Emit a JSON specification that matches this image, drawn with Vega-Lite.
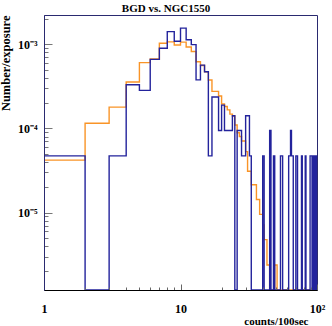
{
  "$schema": "https://vega.github.io/schema/vega-lite/v6.json",
  "autosize": "none",
  "width": 273,
  "height": 275,
  "padding": {"left": 44, "top": 15, "right": 15, "bottom": 36},
  "background": "white",
  "config": {
    "view": {"stroke": "#2a2a70", "strokeWidth": 1},
    "font": "Liberation Serif"
  },
  "title": {
    "text": "BGD vs. NGC1550",
    "font": "Liberation Serif",
    "fontWeight": "bold",
    "fontSize": 11,
    "anchor": "middle",
    "frame": "group",
    "dx": -14.5,
    "offset": -10,
    "baseline": "alphabetic",
    "color": "#000"
  },
  "datasets": {
    "ngc": [
      {"bin": 1, "rate": 4.2e-5}, {"bin": 2, "rate": 1.15e-4}, {"bin": 3, "rate": 1.79e-4}, {"bin": 4, "rate": 3.56e-4},
      {"bin": 5, "rate": 6.05e-4}, {"bin": 6, "rate": 6.68e-4}, {"bin": 7, "rate": 1.03e-3}, {"bin": 8, "rate": 1.07e-3},
      {"bin": 9, "rate": 9.8e-4}, {"bin": 10, "rate": 1.06e-3}, {"bin": 11, "rate": 9.3e-4}, {"bin": 12, "rate": 8.2e-4},
      {"bin": 13, "rate": 6.2e-4}, {"bin": 14, "rate": 5.6e-4}, {"bin": 15, "rate": 4.7e-4}, {"bin": 16, "rate": 3.77e-4},
      {"bin": 17, "rate": 2.76e-4}, {"bin": 18, "rate": 2.76e-4}, {"bin": 19, "rate": 2.43e-4}, {"bin": 20, "rate": 1.95e-4},
      {"bin": 21, "rate": 1.82e-4}, {"bin": 22, "rate": 1.66e-4}, {"bin": 23, "rate": 1.48e-4}, {"bin": 24, "rate": 1.4e-4},
      {"bin": 25, "rate": 1.1e-4}, {"bin": 26, "rate": 8.9e-5}, {"bin": 27, "rate": 8.0e-5}, {"bin": 28, "rate": 7.1e-5},
      {"bin": 29, "rate": 7.1e-5}, {"bin": 30, "rate": 5.3e-5}, {"bin": 31, "rate": 3.1e-5}, {"bin": 32, "rate": 3.1e-5},
      {"bin": 33, "rate": 2.14e-5}, {"bin": 34, "rate": 2.14e-5}, {"bin": 35, "rate": 2.14e-5}, {"bin": 36, "rate": 1.43e-5},
      {"bin": 37, "rate": 1.43e-5}, {"bin": 38, "rate": 9.5e-6}, {"bin": 39, "rate": 9.5e-6}, {"bin": 40, "rate": 7.14e-6},
      {"bin": 41, "rate": 4.76e-6}, {"bin": 42, "rate": 4.76e-6}, {"bin": 43, "rate": 2.38e-6}, {"bin": 44, "rate": 2.38e-6},
      {"bin": 45, "rate": 1e-9}, {"bin": 46, "rate": 1e-9}, {"bin": 47, "rate": 1e-9}, {"bin": 48, "rate": 1e-9},
      {"bin": 49, "rate": 2.38e-6}, {"bin": 50, "rate": 2.38e-6}, {"bin": 51, "rate": 1e-9}, {"bin": 52, "rate": 1e-9},
      {"bin": 53, "rate": 1e-9}, {"bin": 54, "rate": 1e-9}, {"bin": 55, "rate": 1e-9}, {"bin": 56, "rate": 1e-9},
      {"bin": 57, "rate": 1e-9}, {"bin": 58, "rate": 1e-9}, {"bin": 59, "rate": 1e-9}, {"bin": 60, "rate": 1e-9},
      {"bin": 61, "rate": 1e-9}, {"bin": 62, "rate": 1e-9}, {"bin": 63, "rate": 1e-9}, {"bin": 64, "rate": 1e-9},
      {"bin": 65, "rate": 1e-9}, {"bin": 66, "rate": 1e-9}, {"bin": 67, "rate": 1e-9}, {"bin": 68, "rate": 1e-9},
      {"bin": 69, "rate": 1e-9}, {"bin": 70, "rate": 1e-9}, {"bin": 71, "rate": 1e-9}, {"bin": 72, "rate": 1e-9},
      {"bin": 73, "rate": 1e-9}, {"bin": 74, "rate": 1e-9}, {"bin": 75, "rate": 1e-9}, {"bin": 76, "rate": 1e-9},
      {"bin": 77, "rate": 1e-9}, {"bin": 78, "rate": 1e-9}, {"bin": 79, "rate": 1e-9}, {"bin": 80, "rate": 1e-9},
      {"bin": 81, "rate": 1e-9}, {"bin": 82, "rate": 1e-9}, {"bin": 83, "rate": 1e-9}, {"bin": 84, "rate": 1e-9},
      {"bin": 85, "rate": 1e-9}, {"bin": 86, "rate": 1e-9}, {"bin": 87, "rate": 1e-9}, {"bin": 88, "rate": 1e-9},
      {"bin": 89, "rate": 1e-9}, {"bin": 90, "rate": 1e-9}, {"bin": 91, "rate": 1e-9}, {"bin": 92, "rate": 1e-9},
      {"bin": 93, "rate": 1e-9}, {"bin": 94, "rate": 1e-9}, {"bin": 95, "rate": 1e-9}, {"bin": 96, "rate": 1e-9},
      {"bin": 97, "rate": 1e-9}, {"bin": 98, "rate": 1e-9}, {"bin": 99, "rate": 1e-9}, {"bin": 100, "rate": 1e-9}
    ],
    "bgd": [
      {"bin": 1, "rate": 4.72e-5}, {"bin": 2, "rate": 1e-9}, {"bin": 3, "rate": 4.72e-5}, {"bin": 4, "rate": 3.30e-4},
      {"bin": 5, "rate": 2.83e-4}, {"bin": 6, "rate": 6.61e-4}, {"bin": 7, "rate": 8.97e-4}, {"bin": 8, "rate": 1.416e-3},
      {"bin": 9, "rate": 1.086e-3}, {"bin": 10, "rate": 1.558e-3}, {"bin": 11, "rate": 1.133e-3}, {"bin": 12, "rate": 9.91e-4},
      {"bin": 13, "rate": 3.78e-4}, {"bin": 14, "rate": 5.66e-4}, {"bin": 15, "rate": 4.72e-4}, {"bin": 16, "rate": 4.72e-5},
      {"bin": 17, "rate": 2.36e-4}, {"bin": 18, "rate": 2.36e-4}, {"bin": 19, "rate": 9.44e-5}, {"bin": 20, "rate": 1.89e-4},
      {"bin": 21, "rate": 9.44e-5}, {"bin": 22, "rate": 9.44e-5}, {"bin": 23, "rate": 9.44e-5}, {"bin": 24, "rate": 1.416e-4},
      {"bin": 25, "rate": 1e-9}, {"bin": 26, "rate": 9.44e-5}, {"bin": 27, "rate": 9.44e-5}, {"bin": 28, "rate": 4.72e-5},
      {"bin": 29, "rate": 4.72e-5}, {"bin": 30, "rate": 1.416e-4}, {"bin": 31, "rate": 1.416e-4}, {"bin": 32, "rate": 4.72e-5},
      {"bin": 33, "rate": 1e-9}, {"bin": 34, "rate": 1e-9}, {"bin": 35, "rate": 1e-9}, {"bin": 36, "rate": 1e-9},
      {"bin": 37, "rate": 1e-9}, {"bin": 38, "rate": 1e-9}, {"bin": 39, "rate": 1e-9}, {"bin": 40, "rate": 4.72e-5},
      {"bin": 41, "rate": 1e-9}, {"bin": 42, "rate": 1e-9}, {"bin": 43, "rate": 1e-9}, {"bin": 44, "rate": 1e-9},
      {"bin": 45, "rate": 9.44e-5}, {"bin": 46, "rate": 1e-9}, {"bin": 47, "rate": 1e-9}, {"bin": 48, "rate": 4.72e-5},
      {"bin": 49, "rate": 1e-9}, {"bin": 50, "rate": 1e-9}, {"bin": 51, "rate": 1e-9}, {"bin": 52, "rate": 1e-9},
      {"bin": 53, "rate": 1e-9}, {"bin": 54, "rate": 4.72e-5}, {"bin": 55, "rate": 4.72e-5}, {"bin": 56, "rate": 1e-9},
      {"bin": 57, "rate": 1e-9}, {"bin": 58, "rate": 1e-9}, {"bin": 59, "rate": 1e-9}, {"bin": 60, "rate": 1e-9},
      {"bin": 61, "rate": 1e-9}, {"bin": 62, "rate": 4.72e-5}, {"bin": 63, "rate": 4.72e-5}, {"bin": 64, "rate": 9.44e-5},
      {"bin": 65, "rate": 4.72e-5}, {"bin": 66, "rate": 4.72e-5}, {"bin": 67, "rate": 1e-9}, {"bin": 68, "rate": 1e-9},
      {"bin": 69, "rate": 1e-9}, {"bin": 70, "rate": 4.72e-5}, {"bin": 71, "rate": 4.72e-5}, {"bin": 72, "rate": 1e-9},
      {"bin": 73, "rate": 1e-9}, {"bin": 74, "rate": 1e-9}, {"bin": 75, "rate": 1e-9}, {"bin": 76, "rate": 1e-9},
      {"bin": 77, "rate": 4.72e-5}, {"bin": 78, "rate": 1e-9}, {"bin": 79, "rate": 1e-9}, {"bin": 80, "rate": 1e-9},
      {"bin": 81, "rate": 1e-9}, {"bin": 82, "rate": 4.72e-5}, {"bin": 83, "rate": 1e-9}, {"bin": 84, "rate": 1e-9},
      {"bin": 85, "rate": 1e-9}, {"bin": 86, "rate": 1e-9}, {"bin": 87, "rate": 1e-9}, {"bin": 88, "rate": 1e-9},
      {"bin": 89, "rate": 4.72e-5}, {"bin": 90, "rate": 4.72e-5}, {"bin": 91, "rate": 4.72e-5}, {"bin": 92, "rate": 1e-9},
      {"bin": 93, "rate": 4.72e-5}, {"bin": 94, "rate": 4.72e-5}, {"bin": 95, "rate": 1e-9}, {"bin": 96, "rate": 4.72e-5},
      {"bin": 97, "rate": 4.72e-5}, {"bin": 98, "rate": 1e-9}, {"bin": 99, "rate": 4.72e-5}, {"bin": 100, "rate": 4.72e-5}
    ]
  },
  "encoding": {
    "x": {
      "field": "bin",
      "type": "quantitative",
      "scale": {"type": "log", "domain": [1, 100], "nice": false},
      "axis": {
        "values": [1, 2, 3, 4, 5, 6, 7, 8, 9, 10, 20, 30, 40, 50, 60, 70, 80, 90, 100],
        "labelExpr": "datum.value == 1 ? '1' : datum.value == 10 ? '10' : datum.value == 100 ? '10²' : ''",
        "tickSize": {"condition": {"test": "datum.value == 1 || datum.value == 10 || datum.value == 100", "value": -6}, "value": -3},
        "tickColor": "#666",
        "domainColor": "#000",
        "labelFont": "Liberation Serif",
        "labelFontWeight": "bold",
        "labelFontSize": 12,
        "labelColor": "#000",
        "labelPadding": 19.5,
        "labelFlush": false,
        "labelOverlap": false,
        "labelBound": false,
        "grid": false,
        "zindex": 1,
        "title": "counts/100sec",
        "titleFont": "Liberation Serif",
        "titleFontWeight": "bold",
        "titleFontSize": 11,
        "titleColor": "#000",
        "titleAlign": "right",
        "titleBaseline": "middle",
        "titleX": 264,
        "titleY": 31
      }
    },
    "y": {
      "field": "rate",
      "type": "quantitative",
      "scale": {"type": "log", "domain": [1.2e-6, 2.23e-3], "nice": false, "clamp": true},
      "axis": {
        "values": [0.000002, 0.000003, 0.000004, 0.000005, 0.000006, 0.000007, 0.000008, 0.000009, 0.00001,
                   0.00002, 0.00003, 0.00004, 0.00005, 0.00006, 0.00007, 0.00008, 0.00009, 0.0001,
                   0.0002, 0.0003, 0.0004, 0.0005, 0.0006, 0.0007, 0.0008, 0.0009, 0.001, 0.002],
        "labelExpr": "datum.value == 0.001 ? '10⁻³' : datum.value == 0.0001 ? '10⁻⁴' : datum.value == 0.00001 ? '10⁻⁵' : ''",
        "tickSize": {"condition": {"test": "datum.value == 0.001 || datum.value == 0.0001 || datum.value == 0.00001", "value": -8}, "value": -4},
        "tickColor": "#777",
        "domainColor": "#2a2a70",
        "labelFont": "Liberation Serif",
        "labelFontWeight": "bold",
        "labelFontSize": 12,
        "labelColor": "#000",
        "labelPadding": 15,
        "labelFlush": false,
        "labelOverlap": false,
        "labelBound": false,
        "grid": false,
        "zindex": 1,
        "title": "Number/exposure",
        "titleFont": "Liberation Serif",
        "titleFontWeight": "bold",
        "titleFontSize": 12.5,
        "titleColor": "#000",
        "titleAnchor": "end",
        "titlePadding": 5
      }
    }
  },
  "layer": [
    {
      "data": {"name": "ngc"},
      "mark": {"type": "line", "interpolate": "step-after", "color": "#f99427", "strokeWidth": 1.4, "clip": true}
    },
    {
      "data": {"name": "bgd"},
      "mark": {"type": "line", "interpolate": "step-after", "color": "#23239c", "strokeWidth": 1.4, "clip": true}
    }
  ]
}
